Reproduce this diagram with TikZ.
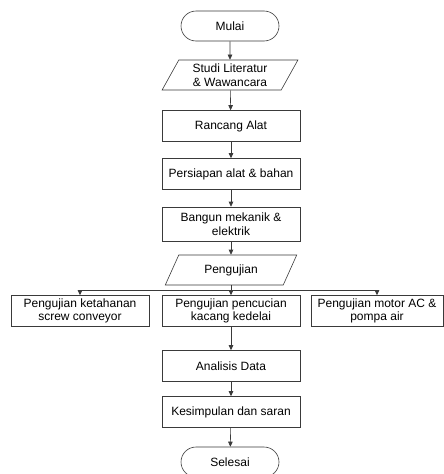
\documentclass[tikz,border=0pt]{standalone}
\usepackage{fontspec}
\setmainfont{Liberation Sans}
\usetikzlibrary{shapes.geometric,shapes.misc,arrows.meta}
\definecolor{lineclr}{HTML}{3A3A3A}
\begin{document}
\begin{tikzpicture}[x=1pt,y=-1pt,
    every node/.style={font=\fontsize{12}{13.5}\selectfont, align=center, inner sep=2pt},
    startstop/.style={draw=lineclr, rounded rectangle, minimum width=102pt, minimum height=30pt},
    process/.style={draw=lineclr, rectangle, minimum width=138pt, minimum height=31pt},
    io/.style={draw=lineclr, trapezium, trapezium left angle=64, trapezium right angle=116,
      trapezium stretches=true, minimum width=136pt, minimum height=30pt},
    flow/.style={draw=lineclr, -{Triangle[length=5pt,width=4.5pt]}},
    line width=0.6pt]
  \useasboundingbox (0,0) rectangle (444,474);

  \node[startstop] (mulai) at (230,26) {Mulai};
  \node[io] (studi) at (230,75) {Studi Literatur\\\& Wawancara};
  \node[process] (rancang) at (231,126) {Rancang Alat};
  \node[process] (persiapan) at (231,174) {Persiapan alat \& bahan};
  \node[process, minimum height=34pt] (bangun) at (231,224) {Bangun mekanik \&\\elektrik};
  \node[io, minimum width=132pt] (pengujian) at (231,270) {Pengujian};

  \coordinate (cabang) at (231,290);
  \node[process] (ujia) at (80,311) {Pengujian ketahanan\\screw conveyor};
  \node[process] (ujib) at (231,311) {Pengujian pencucian\\kacang kedelai};
  \node[process, minimum width=132pt] (ujic) at (377,311) {Pengujian motor AC \&\\pompa air};

  \node[process] (analisis) at (231,366) {Analisis Data};
  \node[process] (kesimpulan) at (231,412) {Kesimpulan dan saran};
  \node[startstop] (selesai) at (230,462) {Selesai};

  \draw[flow] (mulai) to (studi);
  \draw[flow] (studi) to (rancang);
  \draw[flow] (rancang) to (persiapan);
  \draw[flow] (persiapan) to (bangun);
  \draw[flow] (bangun) to (pengujian);
  \draw[draw=lineclr] (pengujian) to (cabang);
  \draw[flow] (cabang) -| (ujia);
  \draw[flow] (cabang) to (ujib);
  \draw[flow] (cabang) -| (ujic);
  \draw[flow] (ujib) to (analisis);
  \draw[flow] (analisis) to (kesimpulan);
  \draw[flow] (kesimpulan) to (selesai);
\end{tikzpicture}
\end{document}
